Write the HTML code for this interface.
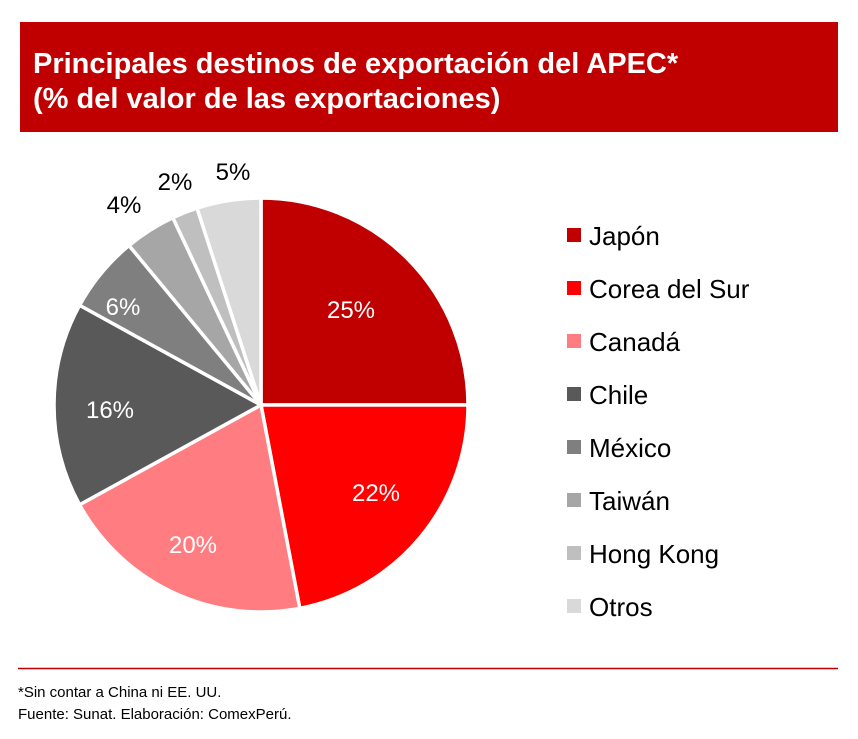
<!DOCTYPE html>
<html><head><meta charset="utf-8"><style>
body{margin:0;background:#fff;width:858px;height:734px;overflow:hidden;font-family:"Liberation Sans",Arial,sans-serif}
</style></head><body>
<svg width="858" height="734" xmlns="http://www.w3.org/2000/svg" font-family="Liberation Sans, Arial, sans-serif">
<rect x="20" y="22" width="818" height="110" fill="#c00000"/>
<text x="33" y="73" fill="#fff" font-size="29" font-weight="bold">Principales destinos de exportación del APEC*</text>
<text x="33" y="108" fill="#fff" font-size="29" font-weight="bold">(% del valor de las exportaciones)</text>
<g id="pie"></g>
<g font-size="24" text-anchor="middle">
<text x="351" y="318" fill="#fff">25%</text>
<text x="376" y="501" fill="#fff">22%</text>
<text x="193" y="553" fill="#fff">20%</text>
<text x="110" y="418" fill="#fff">16%</text>
<text x="123" y="315" fill="#fff">6%</text>
<text x="124" y="213" fill="#000">4%</text>
<text x="175" y="190" fill="#000">2%</text>
<text x="233" y="180" fill="#000">5%</text>
</g>
<g font-size="26" fill="#000">
<rect x="567" y="228" width="14" height="14" fill="#c00000"/><text x="589" y="245">Japón</text>
<rect x="567" y="281" width="14" height="14" fill="#ff0000"/><text x="589" y="298">Corea del Sur</text>
<rect x="567" y="334" width="14" height="14" fill="#ff7c80"/><text x="589" y="351">Canadá</text>
<rect x="567" y="387" width="14" height="14" fill="#595959"/><text x="589" y="404">Chile</text>
<rect x="567" y="440" width="14" height="14" fill="#7f7f7f"/><text x="589" y="457">México</text>
<rect x="567" y="493" width="14" height="14" fill="#a6a6a6"/><text x="589" y="510">Taiwán</text>
<rect x="567" y="546" width="14" height="14" fill="#bfbfbf"/><text x="589" y="563">Hong Kong</text>
<rect x="567" y="599" width="14" height="14" fill="#d9d9d9"/><text x="589" y="616">Otros</text>
</g>
<line x1="18" y1="668.5" x2="838" y2="668.5" stroke="#c00000" stroke-width="1.5"/>
<text x="18" y="697" font-size="15">*Sin contar a China ni EE. UU.</text>
<text x="18" y="719" font-size="15">Fuente: Sunat. Elaboración: ComexPerú.</text>
</svg>
<script>
var v=[25,22,20,16,6,4,2,5],c=["#c00000","#ff0000","#ff7c80","#595959","#7f7f7f","#a6a6a6","#bfbfbf","#d9d9d9"];
var cx=261,cy=405,r=207,a=0,g=document.getElementById("pie"),s="";
for(var i=0;i<v.length;i++){var a2=a+v[i]/100*2*Math.PI;
var x1=cx+r*Math.sin(a),y1=cy-r*Math.cos(a),x2=cx+r*Math.sin(a2),y2=cy-r*Math.cos(a2);
s+='<path d="M'+cx+' '+cy+' L'+x1+' '+y1+' A'+r+' '+r+' 0 '+(v[i]>50?1:0)+' 1 '+x2+' '+y2+' Z" fill="'+c[i]+'" stroke="#fff" stroke-width="3.5" stroke-linejoin="round"/>';a=a2;}
g.innerHTML=s;
</script>
</body></html>
